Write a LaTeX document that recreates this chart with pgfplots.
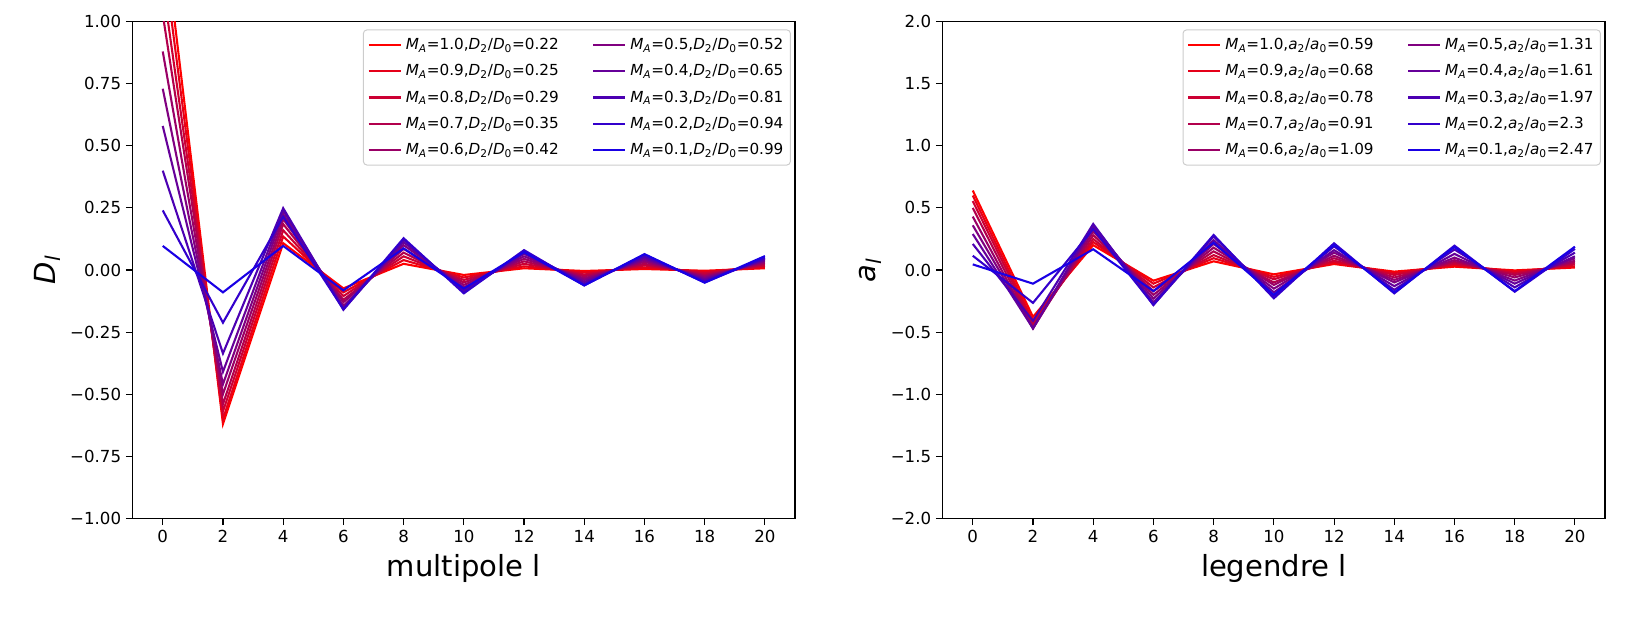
\documentclass[border=0pt]{standalone}
\usepackage{fontspec}
\setmainfont{DejaVu Sans}
\usepackage{pgfplots}
\usepackage{pgfplotstable}
\pgfplotsset{compat=1.18}

\pgfplotstableread{
l   m10    m09    m08    m07    m06    m05    m04    m03    m02    m01
0   1.40   1.28   1.15   1.03   0.88   0.73   0.58   0.40   0.24   0.097
2  -0.62  -0.60  -0.57  -0.54  -0.50  -0.46  -0.41  -0.336 -0.212 -0.090
4   0.108  0.135  0.160  0.185  0.205  0.225  0.240  0.249  0.215  0.097
6  -0.074 -0.090 -0.105 -0.120 -0.130 -0.145 -0.155 -0.160 -0.158 -0.082
8   0.025  0.040  0.055  0.070  0.085  0.100  0.112  0.122  0.128  0.087
10 -0.020 -0.030 -0.040 -0.050 -0.060 -0.070 -0.080 -0.088 -0.094 -0.075
12  0.007  0.015  0.025  0.035  0.045  0.055  0.065  0.074  0.080  0.072
14 -0.004 -0.010 -0.018 -0.025 -0.033 -0.040 -0.048 -0.056 -0.062 -0.062
16  0.004  0.010  0.018  0.025  0.033  0.040  0.047  0.054  0.062  0.064
18 -0.003 -0.007 -0.013 -0.020 -0.026 -0.032 -0.038 -0.044 -0.050 -0.051
20  0.007  0.012  0.018  0.024  0.030  0.036  0.040  0.046  0.050  0.056
}\tableD

\pgfplotstableread{
l   m10    m09    m08    m07    m06    m05    m04    m03    m02    m01
0   0.64   0.60   0.555  0.50   0.43   0.36   0.29   0.21   0.115  0.045
2  -0.378 -0.41  -0.433 -0.455 -0.47  -0.47  -0.47  -0.41  -0.265 -0.110
4   0.200  0.225  0.250  0.280  0.310  0.340  0.360  0.371  0.330  0.167
6  -0.086 -0.110 -0.140 -0.170 -0.200 -0.230 -0.260 -0.282 -0.280 -0.170
8   0.070  0.095  0.120  0.150  0.180  0.210  0.240  0.270  0.282  0.220
10 -0.035 -0.055 -0.075 -0.100 -0.120 -0.150 -0.180 -0.210 -0.228 -0.200
12  0.048  0.060  0.075  0.095  0.115  0.140  0.160  0.190  0.215  0.200
14 -0.013 -0.025 -0.040 -0.060 -0.080 -0.100 -0.130 -0.160 -0.188 -0.180
16  0.027  0.040  0.050  0.065  0.080  0.100  0.130  0.165  0.196  0.185
18 -0.003 -0.012 -0.025 -0.040 -0.060 -0.085 -0.110 -0.140 -0.175 -0.170
20  0.020  0.030  0.045  0.060  0.075  0.094  0.110  0.140  0.170  0.188
}\tableA

\definecolor{c10}{rgb}{1.0,0,0.0}
\definecolor{c09}{rgb}{0.9,0,0.1}
\definecolor{c08}{rgb}{0.8,0,0.2}
\definecolor{c07}{rgb}{0.7,0,0.3}
\definecolor{c06}{rgb}{0.6,0,0.4}
\definecolor{c05}{rgb}{0.5,0,0.5}
\definecolor{c04}{rgb}{0.4,0,0.6}
\definecolor{c03}{rgb}{0.3,0,0.7}
\definecolor{c02}{rgb}{0.2,0,0.8}
\definecolor{c01}{rgb}{0.1,0,0.9}
\definecolor{lgframe}{rgb}{0.8,0.8,0.8}

\newcommand{\lgD}[2]{\textit{M}\textsubscript{\textit{A}}=#1,\textit{D}\textsubscript{2}/\textit{D}\textsubscript{0}=#2}
\newcommand{\lgA}[2]{\textit{M}\textsubscript{\textit{A}}=#1,\textit{a}\textsubscript{2}/\textit{a}\textsubscript{0}=#2}

\pgfplotsset{
  myax/.style={
    scale only axis, width=476.9bp, height=357.6bp,
    xmin=-1, xmax=21,
    xtick={0,2,...,20},
    xticklabels={0,2,4,6,8,10,12,14,16,18,20},
    tick align=outside, tick pos=left,
    major tick length=4.8bp,
    every tick/.style={black, line width=0.8bp},
    axis line style={line width=0.8bp},
    ticklabel style={font=\fontsize{12}{14}\selectfont},
    label style={font=\fontsize{21}{25}\selectfont},
    xlabel style={yshift=-2bp},
    legend columns=5,
    transpose legend,
    legend cell align=left,
    legend image code/.code={\draw[##1] (0bp,0bp) -- (23bp,0bp);},
    legend style={at={(rel axis cs:1,1)}, anchor=north east,
      xshift=-3bp, yshift=-5.6bp,
      draw=lgframe, rounded corners=2.5bp, line width=0.7bp, fill=white,
      font=\fontsize{11}{13}\selectfont,
      inner xsep=3bp, inner ysep=4bp, row sep=5.3bp,
      /tikz/every odd column/.append style={column sep=1bp},
      /tikz/every even column/.append style={column sep=22bp}},
    every axis plot/.append style={line width=1.5bp},
  }
}

\begin{document}
\begin{tikzpicture}
\begin{axis}[myax, at={(95.5bp,84.7bp)}, anchor=south west,
  ymin=-1, ymax=1,
  ytick={-1,-0.75,-0.5,-0.25,0,0.25,0.5,0.75,1},
  yticklabels={−1.00,−0.75,−0.50,−0.25,0.00,0.25,0.50,0.75,1.00},
  xlabel={multipole l},
  ylabel={\textit{D}\textsubscript{\textit{l}}}]
\addplot[c10] table[x=l,y=m10]{\tableD}; \addlegendentry{\lgD{1.0}{0.22}}
\addplot[c09] table[x=l,y=m09]{\tableD}; \addlegendentry{\lgD{0.9}{0.25}}
\addplot[c08] table[x=l,y=m08]{\tableD}; \addlegendentry{\lgD{0.8}{0.29}}
\addplot[c07] table[x=l,y=m07]{\tableD}; \addlegendentry{\lgD{0.7}{0.35}}
\addplot[c06] table[x=l,y=m06]{\tableD}; \addlegendentry{\lgD{0.6}{0.42}}
\addplot[c05] table[x=l,y=m05]{\tableD}; \addlegendentry{\lgD{0.5}{0.52}}
\addplot[c04] table[x=l,y=m04]{\tableD}; \addlegendentry{\lgD{0.4}{0.65}}
\addplot[c03] table[x=l,y=m03]{\tableD}; \addlegendentry{\lgD{0.3}{0.81}}
\addplot[c02] table[x=l,y=m02]{\tableD}; \addlegendentry{\lgD{0.2}{0.94}}
\addplot[c01] table[x=l,y=m01]{\tableD}; \addlegendentry{\lgD{0.1}{0.99}}
\end{axis}
\begin{axis}[myax, at={(678.7bp,84.7bp)}, anchor=south west,
  ymin=-2, ymax=2,
  ytick={-2,-1.5,-1,-0.5,0,0.5,1,1.5,2},
  yticklabels={−2.0,−1.5,−1.0,−0.5,0.0,0.5,1.0,1.5,2.0},
  xlabel={legendre l},
  ylabel={\textit{a}\textsubscript{\textit{l}}}]
\addplot[c10] table[x=l,y=m10]{\tableA}; \addlegendentry{\lgA{1.0}{0.59}}
\addplot[c09] table[x=l,y=m09]{\tableA}; \addlegendentry{\lgA{0.9}{0.68}}
\addplot[c08] table[x=l,y=m08]{\tableA}; \addlegendentry{\lgA{0.8}{0.78}}
\addplot[c07] table[x=l,y=m07]{\tableA}; \addlegendentry{\lgA{0.7}{0.91}}
\addplot[c06] table[x=l,y=m06]{\tableA}; \addlegendentry{\lgA{0.6}{1.09}}
\addplot[c05] table[x=l,y=m05]{\tableA}; \addlegendentry{\lgA{0.5}{1.31}}
\addplot[c04] table[x=l,y=m04]{\tableA}; \addlegendentry{\lgA{0.4}{1.61}}
\addplot[c03] table[x=l,y=m03]{\tableA}; \addlegendentry{\lgA{0.3}{1.97}}
\addplot[c02] table[x=l,y=m02]{\tableA}; \addlegendentry{\lgA{0.2}{2.3}}
\addplot[c01] table[x=l,y=m01]{\tableA}; \addlegendentry{\lgA{0.1}{2.47}}
\end{axis}
\pgfresetboundingbox
\path (0,0) rectangle (1174.3bp,457.9bp);
\end{tikzpicture}
\end{document}
